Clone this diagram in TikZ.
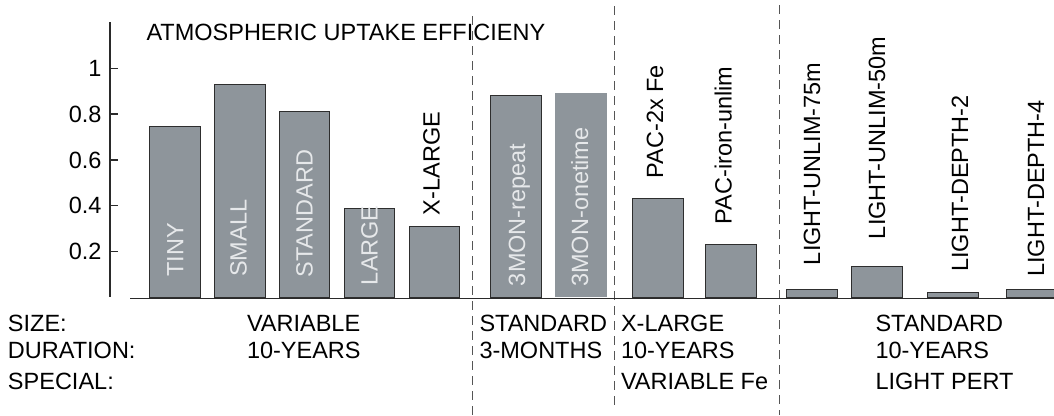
\documentclass[tikz,border=0pt]{standalone}
\usepackage{fontspec}
\setmainfont{Liberation Sans}
\definecolor{barfill}{HTML}{8E959B}
\definecolor{barline}{HTML}{2E2E2E}
\definecolor{intext}{HTML}{E6E8EA}
\definecolor{axisc}{HTML}{2A2A2A}
\definecolor{dashc}{HTML}{555555}
\begin{document}
\begin{tikzpicture}[x=1pt,y=-1pt,
  every node/.style={inner sep=0pt,outer sep=0pt,font=\fontsize{23.5}{27}\selectfont},
  barbox/.style={fill=barfill,draw=barline,line width=1pt},
  inlabel/.style={rotate=90,anchor=base west,text=intext},
  outlabel/.style={rotate=90,anchor=base west,text=black},
  ticklabel/.style={anchor=east,text=black},
  rowtext/.style={anchor=base west,text=black},
  sep/.style={draw=dashc,line width=0.9pt,dash pattern=on 9pt off 6pt}]
\useasboundingbox (0,0) rectangle (1054,415);

% separators
\coordinate (d1t) at (472.3,16); \coordinate (d1b) at (472.3,415);
\coordinate (d2t) at (614.5,6);  \coordinate (d2b) at (614.5,408);
\coordinate (d3t) at (779,5);    \coordinate (d3b) at (779,415);
\draw[sep] (d1t) -- (d1b);
\draw[sep] (d2t) -- (d2b);
\draw[sep] (d3t) -- (d3b);

% bars
\draw[barbox] (149.5,297.5) rectangle (200.2,126.2);
\draw[barbox] (214.2,297.5) rectangle (265.2,84.5);
\draw[barbox] (279.2,297.5) rectangle (329.8,111.8);
\draw[barbox] (344.2,297.5) rectangle (394.8,208.2);
\draw[barbox] (409.2,297.5) rectangle (459.8,226.5);
\draw[barbox] (490.5,297.5) rectangle (541.5,95.5);
\fill[barfill] (555,297) rectangle (607,92.7);
\draw[barbox] (632.2,297.5) rectangle (683.2,198.5);
\draw[barbox] (705.2,297.5) rectangle (756.2,244.8);
\draw[barbox] (786.8,297.5) rectangle (837.8,289.8);
\draw[barbox] (851.8,297.5) rectangle (902.5,266.8);
\draw[barbox] (927.2,297.5) rectangle (978.2,292.5);
\draw[barbox] (1006.2,297.5) rectangle (1057.2,289.8);

% axes
\coordinate (yaxT) at (110.3,22); \coordinate (yaxB) at (110.3,297);
\draw[axisc,line width=2pt] (yaxT) -- (yaxB);
\coordinate (xaxL) at (130,298.3); \coordinate (xaxR) at (1054,298.3);
\draw[axisc,line width=1.3pt] (xaxL) -- (xaxR);
\foreach \yy/\lab [count=\i] in {68.3/1,114/0.8,160/0.6,205.7/0.4,251.3/0.2}{
  \coordinate (tk\i) at (110.3,\yy); \coordinate (tke\i) at (117.5,\yy);
  \draw[axisc,line width=1.3pt] (tk\i) -- (tke\i);
  \node[ticklabel] (tl\i) at (101.5,\yy) {\lab};
}

% title
\node[anchor=base west,text=black] (title) at (146.5,40) {ATMOSPHERIC UPTAKE EFFICIENY};

% bar labels
\node[inlabel] (lTiny) at (183.3,276.7) {TINY};
\node[inlabel] (lSmall) at (246.5,276.7) {SMALL};
\node[inlabel] (lStd) at (312.5,277.3) {STANDARD};
\node[inlabel] (lLarge) at (377.5,285) {LARGE};
\node[outlabel] (lXL) at (439.5,215) {X-LARGE};
\node[inlabel] (lRep) at (525,286) {3MON-repeat};
\node[inlabel] (lOne) at (588,286.7) {3MON-onetime};
\node[outlabel] (lPac2) at (663,178.3) {PAC-2x Fe};
\node[outlabel] (lPacI) at (731.5,224) {PAC-iron-unlim};
\node[outlabel] (lLU75) at (820,265) {LIGHT-UNLIM-75m};
\node[outlabel] (lLU50) at (885,239) {LIGHT-UNLIM-50m};
\node[outlabel] (lLD2) at (968,271.7) {LIGHT-DEPTH-2};
\node[outlabel] (lLD4) at (1044,276.7) {LIGHT-DEPTH-4};

% bottom table
\node[rowtext] (rSize) at (8,331) {SIZE:};
\node[rowtext] (rDur) at (8,358) {DURATION:};
\node[rowtext] (rSpec) at (8,389) {SPECIAL:};
\node[rowtext] (aSize) at (247,331) {VARIABLE};
\node[rowtext] (aDur) at (247,358) {10-YEARS};
\node[rowtext] (bSize) at (479.5,331) {STANDARD};
\node[rowtext] (bDur) at (479.5,358) {3-MONTHS};
\node[rowtext] (cSize) at (621,331) {X-LARGE};
\node[rowtext] (cDur) at (621,358) {10-YEARS};
\node[rowtext] (cSpec) at (621,389) {VARIABLE Fe};
\node[rowtext] (eSize) at (875.5,331) {STANDARD};
\node[rowtext] (eDur) at (875.5,358) {10-YEARS};
\node[rowtext] (eSpec) at (875.5,389) {LIGHT PERT};
\end{tikzpicture}
\end{document}
